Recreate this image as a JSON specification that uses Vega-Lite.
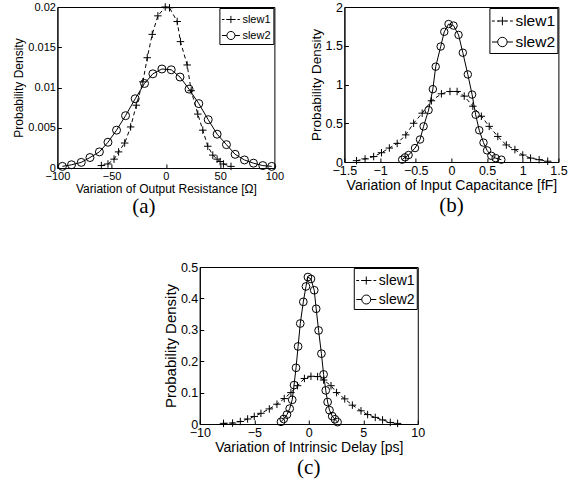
{
  "$schema": "https://vega.github.io/schema/vega-lite/v6.json",
  "padding": {"left": 12, "top": 0, "right": 5, "bottom": 5},
  "config": {
    "view": {"stroke": "black", "strokeWidth": 1},
    "font": "Liberation Sans",
    "axis": {
      "grid": false, "domainColor": "black", "tickColor": "black", "labelColor": "black", "titleColor": "black",
      "titleFontWeight": "normal", "tickSize": -4, "labelPadding": 6, "labelFlush": false, "labelOverlap": false,
      "labelBound": false, "titlePadding": 2, "labelFont": "Liberation Sans", "titleFont": "Liberation Sans", "format": ".6~g"
    },
    "legend": {
      "title": null, "orient": "top-right", "offset": 1, "strokeColor": "black", "fillColor": "white",
      "padding": 3, "symbolStrokeWidth": 1, "symbolStrokeColor": "black",
      "symbolFillColor": "transparent", "labelColor": "black", "labelFont": "Liberation Sans", "rowPadding": 1, "labelOffset": 2
    },
    "title": {"font": "Liberation Serif", "fontWeight": "normal", "color": "black", "orient": "bottom"}
  },
  "datasets": {
    "a": [
      {"x": -59.5, "y": 0.0003, "s": "slew1"}, {"x": -53.4, "y": 0.0005, "s": "slew1"}, {"x": -47.8, "y": 0.0011, "s": "slew1"},
      {"x": -43.6, "y": 0.002, "s": "slew1"}, {"x": -38, "y": 0.0031, "s": "slew1"}, {"x": -32.5, "y": 0.0051, "s": "slew1"},
      {"x": -27.3, "y": 0.0078, "s": "slew1"}, {"x": -21.2, "y": 0.0107, "s": "slew1"}, {"x": -17.2, "y": 0.0137, "s": "slew1"},
      {"x": -12.6, "y": 0.0166, "s": "slew1"}, {"x": -7.4, "y": 0.0189, "s": "slew1"}, {"x": -0.6, "y": 0.02, "s": "slew1"},
      {"x": 3.3, "y": 0.0199, "s": "slew1"}, {"x": 10.4, "y": 0.0182, "s": "slew1"}, {"x": 13.4, "y": 0.0157, "s": "slew1"},
      {"x": 19.6, "y": 0.0128, "s": "slew1"}, {"x": 23.3, "y": 0.0096, "s": "slew1"}, {"x": 29.4, "y": 0.0067, "s": "slew1"},
      {"x": 34, "y": 0.0047, "s": "slew1"}, {"x": 38.6, "y": 0.0027, "s": "slew1"}, {"x": 43.2, "y": 0.0016, "s": "slew1"},
      {"x": 47.2, "y": 0.0011, "s": "slew1"}, {"x": 50, "y": 0.0008, "s": "slew1"}, {"x": 53, "y": 0.0005, "s": "slew1"},
      {"x": 60, "y": 0.0002, "s": "slew1"},
      {"x": -95.4, "y": 0.0002, "s": "slew2"}, {"x": -87, "y": 0.0004, "s": "slew2"}, {"x": -78, "y": 0.0007, "s": "slew2"},
      {"x": -70, "y": 0.0013, "s": "slew2"}, {"x": -61.3, "y": 0.002, "s": "slew2"}, {"x": -53.4, "y": 0.0032, "s": "slew2"},
      {"x": -45.5, "y": 0.0047, "s": "slew2"}, {"x": -37.2, "y": 0.0065, "s": "slew2"}, {"x": -28.3, "y": 0.0086, "s": "slew2"},
      {"x": -19.7, "y": 0.0105, "s": "slew2"}, {"x": -12, "y": 0.0117, "s": "slew2"}, {"x": -3.7, "y": 0.0123, "s": "slew2"},
      {"x": 4.9, "y": 0.0122, "s": "slew2"}, {"x": 13, "y": 0.0113, "s": "slew2"}, {"x": 21.3, "y": 0.0098, "s": "slew2"},
      {"x": 30.3, "y": 0.008, "s": "slew2"}, {"x": 39, "y": 0.006, "s": "slew2"}, {"x": 47.2, "y": 0.0042, "s": "slew2"},
      {"x": 55.8, "y": 0.0029, "s": "slew2"}, {"x": 63.8, "y": 0.0017, "s": "slew2"}, {"x": 72.4, "y": 0.001, "s": "slew2"},
      {"x": 80.7, "y": 0.0006, "s": "slew2"}, {"x": 89.3, "y": 0.0003, "s": "slew2"}, {"x": 97.5, "y": 0.0002, "s": "slew2"}
    ],
    "b": [
      {"x": -1.33, "y": 0.017, "s": "slew1"}, {"x": -1.21, "y": 0.04, "s": "slew1"}, {"x": -1.09, "y": 0.07, "s": "slew1"},
      {"x": -0.98, "y": 0.12, "s": "slew1"}, {"x": -0.87, "y": 0.18, "s": "slew1"}, {"x": -0.76, "y": 0.24, "s": "slew1"},
      {"x": -0.64, "y": 0.35, "s": "slew1"}, {"x": -0.53, "y": 0.5, "s": "slew1"}, {"x": -0.41, "y": 0.63, "s": "slew1"},
      {"x": -0.28, "y": 0.79, "s": "slew1"}, {"x": -0.14, "y": 0.88, "s": "slew1"}, {"x": -0.02, "y": 0.91, "s": "slew1"},
      {"x": 0.08, "y": 0.91, "s": "slew1"}, {"x": 0.18, "y": 0.85, "s": "slew1"}, {"x": 0.3, "y": 0.72, "s": "slew1"},
      {"x": 0.42, "y": 0.59, "s": "slew1"}, {"x": 0.53, "y": 0.46, "s": "slew1"}, {"x": 0.65, "y": 0.33, "s": "slew1"},
      {"x": 0.77, "y": 0.22, "s": "slew1"}, {"x": 0.89, "y": 0.16, "s": "slew1"}, {"x": 1.0, "y": 0.09, "s": "slew1"},
      {"x": 1.11, "y": 0.05, "s": "slew1"}, {"x": 1.23, "y": 0.03, "s": "slew1"}, {"x": 1.35, "y": 0.01, "s": "slew1"},
      {"x": -0.69, "y": 0.03, "s": "slew2"}, {"x": -0.65, "y": 0.06, "s": "slew2"}, {"x": -0.6, "y": 0.09, "s": "slew2"},
      {"x": -0.51, "y": 0.18, "s": "slew2"}, {"x": -0.44, "y": 0.29, "s": "slew2"}, {"x": -0.39, "y": 0.46, "s": "slew2"},
      {"x": -0.32, "y": 0.67, "s": "slew2"}, {"x": -0.26, "y": 0.94, "s": "slew2"}, {"x": -0.22, "y": 1.23, "s": "slew2"},
      {"x": -0.15, "y": 1.49, "s": "slew2"}, {"x": -0.1, "y": 1.68, "s": "slew2"}, {"x": -0.04, "y": 1.78, "s": "slew2"},
      {"x": 0.03, "y": 1.76, "s": "slew2"}, {"x": 0.1, "y": 1.64, "s": "slew2"}, {"x": 0.16, "y": 1.41, "s": "slew2"},
      {"x": 0.23, "y": 1.13, "s": "slew2"}, {"x": 0.29, "y": 0.87, "s": "slew2"}, {"x": 0.34, "y": 0.61, "s": "slew2"},
      {"x": 0.39, "y": 0.41, "s": "slew2"}, {"x": 0.45, "y": 0.25, "s": "slew2"}, {"x": 0.5, "y": 0.15, "s": "slew2"},
      {"x": 0.56, "y": 0.08, "s": "slew2"}, {"x": 0.62, "y": 0.05, "s": "slew2"}, {"x": 0.7, "y": 0.03, "s": "slew2"}
    ],
    "c": [
      {"x": -7.82, "y": 0.002, "s": "slew1"}, {"x": -6.99, "y": 0.003, "s": "slew1"}, {"x": -6.28, "y": 0.008, "s": "slew1"},
      {"x": -5.61, "y": 0.016, "s": "slew1"}, {"x": -5.0, "y": 0.024, "s": "slew1"}, {"x": -4.39, "y": 0.034, "s": "slew1"},
      {"x": -3.62, "y": 0.048, "s": "slew1"}, {"x": -2.92, "y": 0.063, "s": "slew1"}, {"x": -2.25, "y": 0.081, "s": "slew1"},
      {"x": -1.64, "y": 0.1, "s": "slew1"}, {"x": -1.03, "y": 0.122, "s": "slew1"}, {"x": -0.4, "y": 0.145, "s": "slew1"},
      {"x": 0.2, "y": 0.152, "s": "slew1"}, {"x": 0.81, "y": 0.151, "s": "slew1"}, {"x": 1.36, "y": 0.14, "s": "slew1"},
      {"x": 2.04, "y": 0.122, "s": "slew1"}, {"x": 2.55, "y": 0.1, "s": "slew1"}, {"x": 3.3, "y": 0.08, "s": "slew1"},
      {"x": 4.0, "y": 0.06, "s": "slew1"}, {"x": 4.79, "y": 0.042, "s": "slew1"}, {"x": 5.4, "y": 0.03, "s": "slew1"},
      {"x": 6.1, "y": 0.021, "s": "slew1"}, {"x": 6.77, "y": 0.013, "s": "slew1"}, {"x": 7.48, "y": 0.005, "s": "slew1"},
      {"x": 8.15, "y": 0.002, "s": "slew1"},
      {"x": -2.55, "y": 0.007, "s": "slew2"}, {"x": -2.3, "y": 0.016, "s": "slew2"}, {"x": -2.0, "y": 0.03, "s": "slew2"},
      {"x": -1.75, "y": 0.049, "s": "slew2"}, {"x": -1.52, "y": 0.077, "s": "slew2"}, {"x": -1.35, "y": 0.124, "s": "slew2"},
      {"x": -1.17, "y": 0.179, "s": "slew2"}, {"x": -0.98, "y": 0.247, "s": "slew2"}, {"x": -0.78, "y": 0.32, "s": "slew2"},
      {"x": -0.5, "y": 0.389, "s": "slew2"}, {"x": -0.26, "y": 0.438, "s": "slew2"}, {"x": -0.08, "y": 0.468, "s": "slew2"},
      {"x": 0.2, "y": 0.462, "s": "slew2"}, {"x": 0.5, "y": 0.426, "s": "slew2"}, {"x": 0.68, "y": 0.367, "s": "slew2"},
      {"x": 0.9, "y": 0.298, "s": "slew2"}, {"x": 1.16, "y": 0.224, "s": "slew2"}, {"x": 1.36, "y": 0.158, "s": "slew2"},
      {"x": 1.56, "y": 0.107, "s": "slew2"}, {"x": 1.73, "y": 0.07, "s": "slew2"}, {"x": 1.9, "y": 0.044, "s": "slew2"},
      {"x": 2.15, "y": 0.025, "s": "slew2"}, {"x": 2.4, "y": 0.015, "s": "slew2"}, {"x": 2.64, "y": 0.006, "s": "slew2"}
    ]
  },
  "spacing": 42,
  "center": true,
  "resolve": {"scale": {"shape": "independent"}, "legend": {"shape": "independent"}},
  "vconcat": [
    {
      "spacing": 24,
      "resolve": {"scale": {"shape": "independent"}, "legend": {"shape": "independent"}},
      "hconcat": [
        {
          "width": 217, "height": 161,
          "data": {"name": "a"},
          "title": {"text": "(a)", "fontSize": 21, "offset": 2, "dx": -22},
          "encoding": {
            "x": {"field": "x", "type": "quantitative", "scale": {"domain": [-100, 100], "nice": false, "zero": false},
              "axis": {"values": [-100, -50, 0, 50, 100], "title": "Variation of Output Resistance [Ω]", "labelFontSize": 11, "titleFontSize": 12}},
            "y": {"field": "y", "type": "quantitative", "scale": {"domain": [0, 0.02], "nice": false, "zero": false},
              "axis": {"values": [0, 0.005, 0.01, 0.015, 0.02], "title": "Probability Density", "labelFontSize": 11, "titleFontSize": 12}}
          },
          "layer": [
            {"transform": [{"filter": "datum.s === 'slew1'"}],
              "mark": {"type": "line", "color": "black", "strokeWidth": 1, "strokeDash": [4, 3]}},
            {"transform": [{"filter": "datum.s === 'slew2'"}],
              "mark": {"type": "line", "color": "black", "strokeWidth": 1}},
            {"transform": [{"filter": "datum.s === 'slew1'"}],
              "mark": {"type": "point", "shape": "M-1,0H1M0,-1V1", "size": 56, "color": "black", "strokeWidth": 1, "filled": false, "opacity": 1}},
            {"transform": [{"filter": "datum.s === 'slew2'"}],
              "mark": {"type": "point", "shape": "circle", "size": 64, "color": "black", "strokeWidth": 1, "filled": false, "opacity": 1}},
            {"mark": {"type": "point", "opacity": 0, "filled": false, "color": "black"},
              "encoding": {
                "shape": {"field": "s", "type": "nominal",
                  "scale": {"domain": ["slew1", "slew2"], "range": ["M-1,0H-0.72M-0.52,0H-0.3M0.3,0H0.52M0.72,0H1M0,-0.4V0.4M-0.4,0H0.4", "M-1,0H-0.45M0.45,0H1M-0.45,0A0.45,0.45 0 1,0 0.45,0A0.45,0.45 0 1,0 -0.45,0"]},
                  "legend": {"symbolSize": 324, "symbolOpacity": 1, "labelFontSize": 11, "rowPadding": -4, "padding": 2}}
              }}
          ]
        },
        {
          "width": 214, "height": 155,
          "data": {"name": "b"},
          "title": {"text": "(b)", "fontSize": 21, "offset": 2},
          "encoding": {
            "x": {"field": "x", "type": "quantitative", "scale": {"domain": [-1.5, 1.5], "nice": false, "zero": false},
              "axis": {"values": [-1.5, -1, -0.5, 0, 0.5, 1, 1.5], "title": "Variation of Input Capacitance [fF]", "labelFontSize": 12.5, "titleFontSize": 14}},
            "y": {"field": "y", "type": "quantitative", "scale": {"domain": [0, 2], "nice": false, "zero": false},
              "axis": {"values": [0, 0.5, 1, 1.5, 2], "title": "Probability Density", "labelFontSize": 12.5, "titleFontSize": 13.5}}
          },
          "layer": [
            {"transform": [{"filter": "datum.s === 'slew1'"}],
              "mark": {"type": "line", "color": "black", "strokeWidth": 1, "strokeDash": [4, 3]}},
            {"transform": [{"filter": "datum.s === 'slew2'"}],
              "mark": {"type": "line", "color": "black", "strokeWidth": 1}},
            {"transform": [{"filter": "datum.s === 'slew1'"}],
              "mark": {"type": "point", "shape": "M-1,0H1M0,-1V1", "size": 56, "color": "black", "strokeWidth": 1, "filled": false, "opacity": 1}},
            {"transform": [{"filter": "datum.s === 'slew2'"}],
              "mark": {"type": "point", "shape": "circle", "size": 56, "color": "black", "strokeWidth": 1, "filled": false, "opacity": 1}},
            {"mark": {"type": "point", "opacity": 0, "filled": false, "color": "black"},
              "encoding": {
                "shape": {"field": "s", "type": "nominal",
                  "scale": {"domain": ["slew1", "slew2"], "range": ["M-1,0H-0.72M-0.52,0H-0.3M0.3,0H0.52M0.72,0H1M0,-0.4V0.4M-0.4,0H0.4", "M-1,0H-0.45M0.45,0H1M-0.45,0A0.45,0.45 0 1,0 0.45,0A0.45,0.45 0 1,0 -0.45,0"]},
                  "legend": {"symbolSize": 441, "symbolOpacity": 1, "labelFontSize": 15.5, "rowPadding": 1, "padding": 2}}
              }}
          ]
        }
      ]
    },
    {
      "width": 218, "height": 157,
      "data": {"name": "c"},
      "title": {"text": "(c)", "fontSize": 21, "offset": 2},
      "encoding": {
        "x": {"field": "x", "type": "quantitative", "scale": {"domain": [-10, 10], "nice": false, "zero": false},
          "axis": {"values": [-10, -5, 0, 5, 10], "title": "Variation of Intrinsic Delay [ps]", "labelFontSize": 12.5, "titleFontSize": 14}},
        "y": {"field": "y", "type": "quantitative", "scale": {"domain": [0, 0.5], "nice": false, "zero": false},
          "axis": {"values": [0, 0.1, 0.2, 0.3, 0.4, 0.5], "title": "Probability Density", "labelFontSize": 12.5, "titleFontSize": 15}}
      },
      "layer": [
        {"transform": [{"filter": "datum.s === 'slew1'"}],
          "mark": {"type": "line", "color": "black", "strokeWidth": 1, "strokeDash": [4, 3]}},
        {"transform": [{"filter": "datum.s === 'slew2'"}],
          "mark": {"type": "line", "color": "black", "strokeWidth": 1}},
        {"transform": [{"filter": "datum.s === 'slew1'"}],
          "mark": {"type": "point", "shape": "M-1,0H1M0,-1V1", "size": 56, "color": "black", "strokeWidth": 1, "filled": false, "opacity": 1}},
        {"transform": [{"filter": "datum.s === 'slew2'"}],
          "mark": {"type": "point", "shape": "circle", "size": 60, "color": "black", "strokeWidth": 1, "filled": false, "opacity": 1}},
        {"mark": {"type": "point", "opacity": 0, "filled": false, "color": "black"},
          "encoding": {
            "shape": {"field": "s", "type": "nominal",
              "scale": {"domain": ["slew1", "slew2"], "range": ["M-1,0H-0.72M-0.52,0H-0.3M0.3,0H0.52M0.72,0H1M0,-0.4V0.4M-0.4,0H0.4", "M-1,0H-0.45M0.45,0H1M-0.45,0A0.45,0.45 0 1,0 0.45,0A0.45,0.45 0 1,0 -0.45,0"]},
              "legend": {"symbolSize": 400, "symbolOpacity": 1, "labelFontSize": 14, "rowPadding": 1, "padding": 2}}
          }}
      ]
    }
  ]
}
